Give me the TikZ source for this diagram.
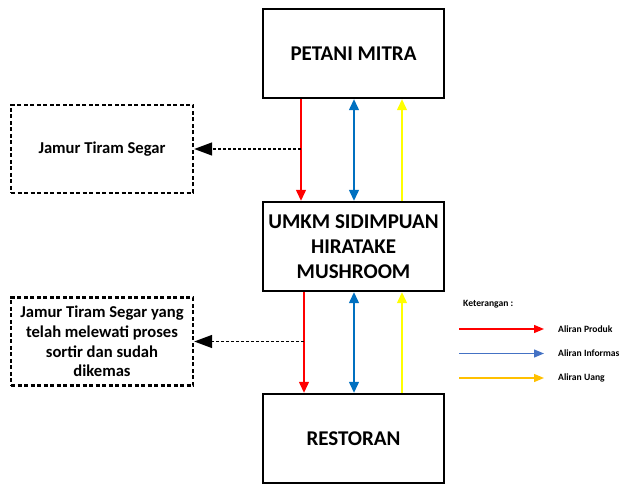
\documentclass[tikz,border=0pt]{standalone}
\usepackage{fontspec}
\setmainfont{Carlito}
\usetikzlibrary{arrows.meta}
\definecolor{infoblue}{RGB}{0,112,192}
\definecolor{uangyellow}{RGB}{255,255,0}
\definecolor{legblue}{RGB}{68,114,196}
\definecolor{leggold}{RGB}{255,192,0}

\begin{document}
\begin{tikzpicture}[
            x=1pt, y=-1pt,
            main node/.style={draw, line width=2.4pt, minimum width=181pt, minimum height=89pt,
              align=center, font=\bfseries\fontsize{21}{25}\selectfont},
            side node/.style={draw, line width=2.4pt, dash pattern=on 4pt off 2.5pt,
              minimum width=182pt, minimum height=88pt, align=center,
              font=\bfseries\fontsize{16.6}{19.7}\selectfont},
            flow/.style={line width=1.3pt, -{Triangle[width=10pt,length=11pt]}},
            info/.style={flow, {Triangle[width=10pt,length=11pt]}-{Triangle[width=10pt,length=11pt]}},
            side arrow/.style={line width=1.6pt, dash pattern=on 3pt off 2pt, -{Triangle[width=13pt,length=18pt]}},
            legend/.style={line width=1.2pt, -{Triangle[width=8pt,length=10pt]}},
            legend text/.style={anchor=west, inner sep=0pt, font=\bfseries\fontsize{9.6}{11}\selectfont},
            ]
            \useasboundingbox (0,0) rectangle (622,484);

            \node[main node] (petani) at (353.5,53.5) {PETANI MITRA};
            \node[main node] (umkm) at (353.5,246.5) {UMKM SIDIMPUAN\\HIRATAKE\\MUSHROOM};
            \node[main node] (restoran) at (353.5,438.5) {RESTORAN};

            \node[side node] (segar) at (102,149) {Jamur Tiram Segar};
            \node[side node] (kemas) at (102,341.5) {Jamur Tiram Segar yang\\telah melewati proses\\sortir dan sudah\\dikemas};

            % petani - umkm
            \draw[flow, red] ([xshift=-52.5pt]petani.south) -- ([xshift=-52.5pt]umkm.north);
            \draw[info, infoblue] ([xshift=0.5pt]petani.south) -- ([xshift=0.5pt]umkm.north);
            \draw[flow, uangyellow] ([xshift=48.5pt]umkm.north) -- ([xshift=48.5pt]petani.south);

            % umkm - restoran
            \draw[flow, red] ([xshift=-49.5pt]umkm.south) -- ([xshift=-49.5pt]restoran.north);
            \draw[info, infoblue] ([xshift=0.5pt]umkm.south) -- ([xshift=0.5pt]restoran.north);
            \draw[flow, uangyellow] ([xshift=48.5pt]restoran.north) -- ([xshift=48.5pt]umkm.south);

            \coordinate (p1) at (301,149);
            \coordinate (p2) at (304,341.5);
            \draw[side arrow] (p1) -- (segar.east);
            \draw[side arrow] (p2) -- (kemas.east);

            % keterangan
            \node[legend text] (ket) at (463,304) {Keterangan :};
            \node[legend text] (produk) at (558,329) {Aliran Produk};
            \node[legend text] (informasi) at (558,353.5) {Aliran Informas};
            \node[legend text] (uang) at (558,378) {Aliran Uang};
            \coordinate (l1) at (459,329);
            \coordinate (l2) at (459,353.5);
            \coordinate (l3) at (459,378);
            \draw[legend, red] (l1) -- ([xshift=-14pt]produk.west);
            \draw[legend, legblue] (l2) -- ([xshift=-14pt]informasi.west);
            \draw[legend, leggold] (l3) -- ([xshift=-14pt]uang.west);
        \end{tikzpicture}
\end{document}
